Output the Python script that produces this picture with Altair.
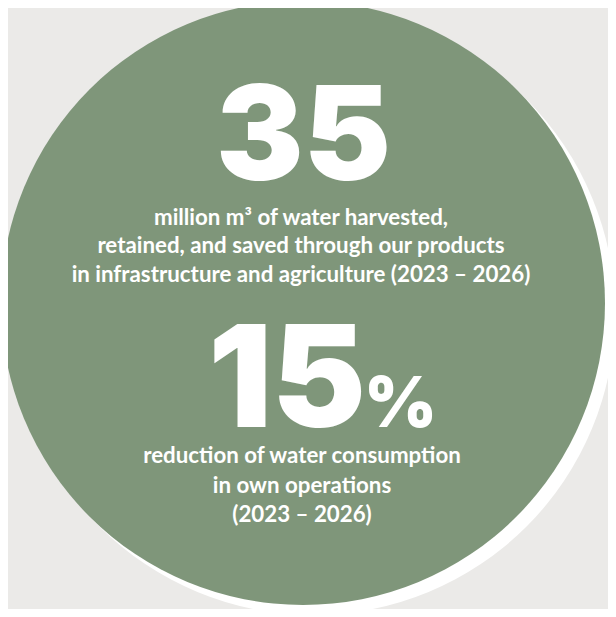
import altair as alt
import pandas as pd

# ---- content ----
figures = ["35", "15"]
figure_suffix = ["", "%"]
desc_top = [
    "million m³ of water harvested,",
    "retained, and saved through our products",
    "in infrastructure and agriculture (2023 – 2026)",
]
desc_bottom = [
    "reduction of water consumption",
    "in own operations",
    "(2023 – 2026)",
]

# ---- layout (reference pixel coordinates; page has 8px margin) ----
W, H = 600, 601
OFF = 8
BG = "#ebeae8"
GREEN = "#7f967a"
NUM_FONT = "Inter"
TXT_FONT = "Lato"

xs = alt.Scale(domain=[OFF, OFF + W], nice=False, zero=False)
ys = alt.Scale(domain=[OFF, OFF + H], nice=False, zero=False, reverse=True)


def pt(x, y, **extra):
    d = {"x": [x], "y": [y]}
    d.update({k: [v] for k, v in extra.items()})
    return pd.DataFrame(d)


def enc(ch):
    return ch.encode(
        x=alt.X("x:Q", scale=xs, axis=None),
        y=alt.Y("y:Q", scale=ys, axis=None),
    )


R = 302
shadow = enc(alt.Chart(pt(313, 313)).mark_circle(size=(2 * R) ** 2, color="white", opacity=1))
disc = enc(alt.Chart(pt(303, 303)).mark_circle(size=(2 * R) ** 2, color=GREEN, opacity=1))


def txt(df, size, weight, font, align="center"):
    return alt.Chart(df).mark_text(
        font=font, fontSize=size, fontWeight=weight, color="white",
        align=align, baseline="alphabetic",
    ).encode(
        x=alt.X("x:Q", scale=xs, axis=None),
        y=alt.Y("y:Q", scale=ys, axis=None),
        text="t:N",
    )


layers = [shadow, disc]
layers.append(txt(pt(303.5, 180, t=figures[0]), 131, 900, NUM_FONT))
layers.append(txt(pt(366, 427, t=figures[1]), 141, 900, NUM_FONT, align="right"))
layers.append(txt(pt(364, 427, t=figure_suffix[1]), 70, 900, NUM_FONT, align="left"))

top_y = [224.5, 253, 281.5]
for line, y in zip(desc_top, top_y):
    layers.append(txt(pt(301, y, t=line), 22.3, 700, TXT_FONT))
bot_y = [463, 493, 522]
for line, y in zip(desc_bottom, bot_y):
    layers.append(txt(pt(302, y, t=line), 22.3, 700, TXT_FONT))

chart = alt.layer(*layers).properties(
    width=W, height=H, background=BG, padding=0,
    autosize=alt.AutoSizeParams(type="none"),
).configure_view(stroke=None, clip=False)

chart.save("out.html", embed_options={"renderer": "svg", "actions": False})
